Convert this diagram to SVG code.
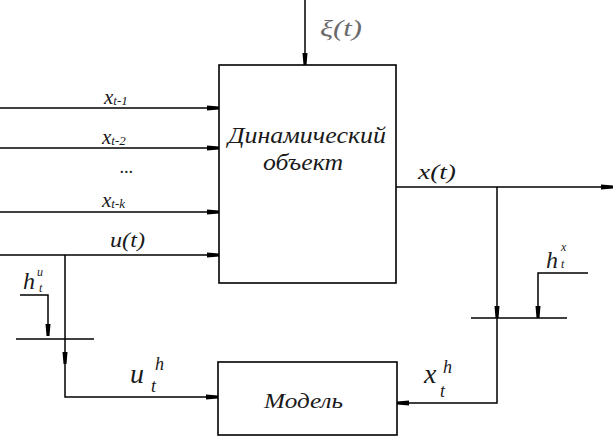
<svg xmlns="http://www.w3.org/2000/svg" width="614" height="436" viewBox="0 0 614 436">
<defs>
<marker id="ah" viewBox="0 0 12 8" refX="12" refY="4" markerWidth="12" markerHeight="8" markerUnits="userSpaceOnUse" orient="auto">
<path d="M0,1.5 L12,2.5 L12,5.5 L0,6.5 Z" fill="#000"/>
</marker>
</defs>
<g id="connectors" fill="none" stroke="#000" stroke-width="1.5">
<line x1="305" y1="0" x2="305" y2="65" marker-end="url(#ah)"/>
<line x1="0" y1="108" x2="219" y2="108" marker-end="url(#ah)"/>
<line x1="0" y1="148" x2="219" y2="148" marker-end="url(#ah)"/>
<line x1="0" y1="212" x2="219" y2="212" marker-end="url(#ah)"/>
<line x1="0" y1="255" x2="219" y2="255" marker-end="url(#ah)"/>
<line x1="396" y1="187" x2="613" y2="187" marker-end="url(#ah)"/>
<line x1="497" y1="187" x2="497" y2="318" marker-end="url(#ah)"/>
<polyline points="588,273 538,273 538,318" marker-end="url(#ah)"/>
<line x1="471" y1="318" x2="567" y2="318"/>
<polyline points="497,318 497,403 397,403" marker-end="url(#ah)"/>
<polyline points="20,295 48,295 48,336" marker-end="url(#ah)"/>
<line x1="16" y1="339" x2="94" y2="339"/>
<line x1="65" y1="255" x2="65" y2="364" marker-end="url(#ah)"/>
<polyline points="65,364 65,397 218,397" marker-end="url(#ah)"/>
</g>
<g id="dynamic-object">
<rect x="219" y="65" width="177" height="218" fill="#fff" stroke="#000" stroke-width="1.6"/>
<text x="228" y="143" font-family="serif" font-style="italic" fill="#1a1a1a" font-size="23" textLength="158" lengthAdjust="spacingAndGlyphs">Динамический</text>
<text x="263" y="170" font-family="serif" font-style="italic" fill="#1a1a1a" font-size="23" textLength="80" lengthAdjust="spacingAndGlyphs">объект</text>
</g>
<g id="model">
<rect x="218" y="362" width="179" height="73" fill="#fff" stroke="#000" stroke-width="1.6"/>
<text x="264" y="408" font-family="serif" font-style="italic" fill="#1a1a1a" font-size="21" textLength="79" lengthAdjust="spacingAndGlyphs">Модель</text>
</g>
<g id="labels">
<text x="320" y="36" font-family="serif" font-style="italic" font-size="24" fill="#6a6a6a" textLength="42" lengthAdjust="spacingAndGlyphs">ξ(t)</text>
<text x="104" y="104" font-family="serif" font-style="italic" fill="#1a1a1a" font-size="21">x<tspan font-size="13" dy="1">t-1</tspan></text>
<text x="102" y="144" font-family="serif" font-style="italic" fill="#1a1a1a" font-size="21">x<tspan font-size="13" dy="1">t-2</tspan></text>
<text x="120" y="173" font-family="serif" font-style="italic" fill="#1a1a1a" font-size="18">...</text>
<text x="102" y="207" font-family="serif" font-style="italic" fill="#1a1a1a" font-size="21">x<tspan font-size="13" dy="1">t-k</tspan></text>
<text x="110" y="247" font-family="serif" font-style="italic" fill="#1a1a1a" font-size="20" textLength="35" lengthAdjust="spacingAndGlyphs">u(t)</text>
<text x="418" y="179" font-family="serif" font-style="italic" fill="#1a1a1a" font-size="20" textLength="38" lengthAdjust="spacingAndGlyphs">x(t)</text>
<text x="546" y="268" font-family="serif" font-style="italic" fill="#1a1a1a" font-size="24">h</text>
<text x="561" y="251" font-family="serif" font-style="italic" fill="#1a1a1a" font-size="12">x</text>
<text x="561" y="268" font-family="serif" font-style="italic" fill="#1a1a1a" font-size="12">t</text>
<text x="23" y="289" font-family="serif" font-style="italic" fill="#1a1a1a" font-size="24">h</text>
<text x="37" y="276" font-family="serif" font-style="italic" fill="#1a1a1a" font-size="12">u</text>
<text x="39" y="292" font-family="serif" font-style="italic" fill="#1a1a1a" font-size="12">t</text>
<text x="130" y="383" font-family="serif" font-style="italic" fill="#1a1a1a" font-size="28">u</text>
<text x="151" y="392" font-family="serif" font-style="italic" fill="#1a1a1a" font-size="18">t</text>
<text x="155" y="370" font-family="serif" font-style="italic" fill="#1a1a1a" font-size="18">h</text>
<text x="424" y="383" font-family="serif" font-style="italic" fill="#1a1a1a" font-size="28">x</text>
<text x="440" y="397" font-family="serif" font-style="italic" fill="#1a1a1a" font-size="18">t</text>
<text x="443" y="373" font-family="serif" font-style="italic" fill="#1a1a1a" font-size="18">h</text>
</g>
</svg>
